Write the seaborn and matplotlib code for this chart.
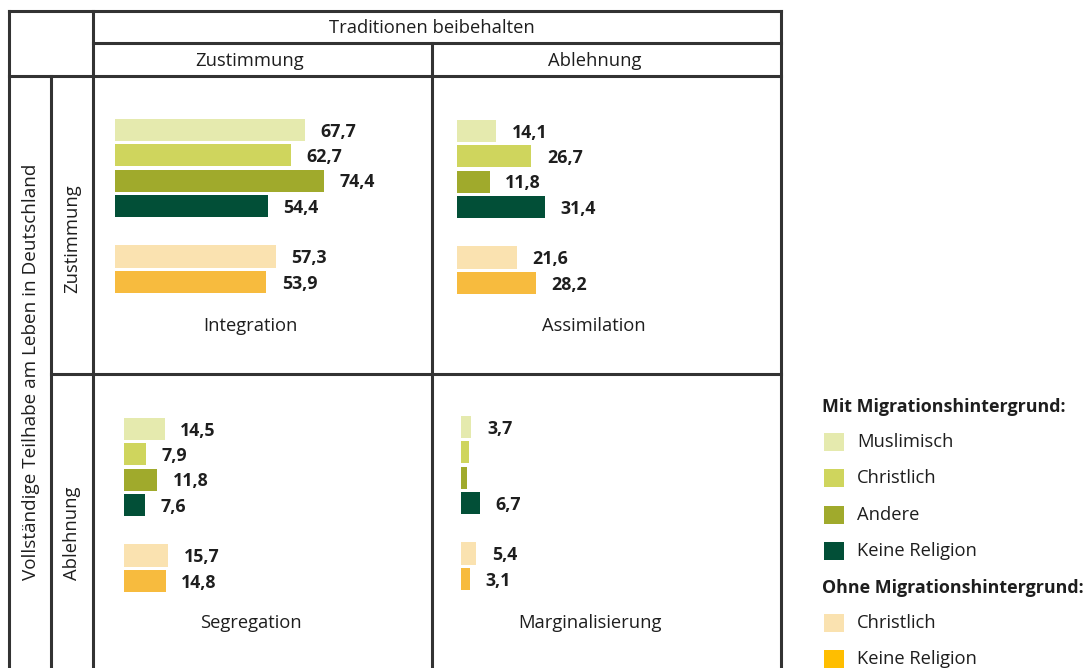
import numpy as np
import pandas as pd
import matplotlib
matplotlib.use("Agg")
import matplotlib.pyplot as plt
from matplotlib.patches import Rectangle
import seaborn as sns

sns.set_style("white")
plt.rcParams['font.family'] = ['Open Sans', 'DejaVu Sans']

# ---------------- data ----------------
groups = ["Mit: Muslimisch", "Mit: Christlich", "Mit: Andere", "Mit: Keine Religion",
          "Ohne: Christlich", "Ohne: Keine Religion"]
integration = [67.7, 62.7, 74.4, 54.4, 57.3, 53.9]
assimilation = [14.1, 26.7, 11.8, 31.4, 21.6, 28.2]
segregation = [14.5, 7.9, 11.8, 7.6, 15.7, 14.8]
marginalisierung = [3.7, 2.8, 2.1, 6.7, 5.4, 3.1]
marg_labelled = [True, False, False, True, True, True]

quadrant_names = ["Integration", "Assimilation", "Segregation", "Marginalisierung"]
header_top = "Traditionen beibehalten"
col_labels = ["Zustimmung", "Ablehnung"]
row_labels = ["Zustimmung", "Ablehnung"]
row_title = "Vollständige Teilhabe am Leben in Deutschland"
legend_title_mit = "Mit Migrationshintergrund:"
legend_mit = ["Muslimisch", "Christlich", "Andere", "Keine Religion"]
legend_title_ohne = "Ohne Migrationshintergrund:"
legend_ohne = ["Christlich", "Keine Religion"]

# ---------------- styles ----------------
bar_colors = ["#e5eaae", "#cfd55d", "#a0aa2c", "#024f37", "#fae2b0", "#f7bb3e"]
legend_colors = ["#e5eaae", "#cfd55d", "#a0aa2c", "#024f37", "#fae2b0", "#ffbe00"]
positions = [0, 1, 2, 3, 5, 6]
palette = dict(zip(groups, bar_colors))
LINE = "#333333"
TXT = "#1e1e1e"

W, H = 1089, 668
fig = plt.figure(figsize=(W / 100, H / 100), dpi=100)

bg = fig.add_axes([0, 0, 1, 1])
bg.set_xlim(0, W)
bg.set_ylim(H, 0)
bg.axis("off")

# table lines
lw = 2.2
def hline(y, x0, x1):
    bg.plot([x0, x1], [y, y], color=LINE, lw=lw, solid_capstyle="projecting")
def vline(x, y0, y1):
    bg.plot([x, x], [y0, y1], color=LINE, lw=lw, solid_capstyle="projecting")

hline(10.7, 9, 780.5)
hline(43.3, 92.5, 780.5)
hline(76.3, 9, 780.5)
hline(373.5, 51, 780.5)
vline(9, 10.7, 670)
vline(51, 76.3, 670)
vline(92.5, 10.7, 670)
vline(431.5, 43.3, 670)
vline(780.5, 10.7, 670)

fs = 13.2
bg.text(432, 28, header_top, ha="center", va="center", fontsize=fs, color=TXT)
bg.text(249.5, 61, col_labels[0], ha="center", va="center", fontsize=fs, color=TXT)
bg.text(595, 61, col_labels[1], ha="center", va="center", fontsize=fs, color=TXT)
bg.text(31, 372, row_title, ha="center", va="center", rotation=90, fontsize=13.6, color=TXT)
bg.text(72, 239, row_labels[0], ha="center", va="center", rotation=90, fontsize=fs, color=TXT)
bg.text(72, 533, row_labels[1], ha="center", va="center", rotation=90, fontsize=fs, color=TXT)

# quadrant label positions (pixel)
qlabel_pos = [(250.5, 326), (594, 326), (250.5, 623), (589.5, 623)]
for name, (x, y) in zip(quadrant_names, qlabel_pos):
    bg.text(x, y, name, ha="center", va="center", fontsize=fs, color=TXT)

# ---------------- bars ----------------
PX_PER_UNIT = 2.806
STEP = 25.3
AX_W = 300
quad_data = [integration, assimilation, segregation, marginalisierung]
quad_labelled = [[True] * 6, [True] * 6, [True] * 6, marg_labelled]
quad_origin = [(115, 130), (456.5, 131), (124, 429), (461, 427)]  # bar start x, first bar centre y

for vals, lab, (x0, yc0) in zip(quad_data, quad_labelled, quad_origin):
    top = yc0 - 0.5 * STEP
    height = 7 * STEP
    ax = fig.add_axes([x0 / W, 1 - (top + height) / H, AX_W / W, height / H])
    df = pd.DataFrame({"value": vals, "pos": positions, "group": groups})
    sns.barplot(data=df, x="value", y="pos", hue="group", palette=palette,
                orient="y", native_scale=True, width=0.87, dodge=False,
                saturation=1, legend=False, linewidth=0, ax=ax)
    ax.set_xlim(0, AX_W / PX_PER_UNIT)
    ax.set_ylim(6.5, -0.5)
    ax.axis("off")
    ax.patch.set_alpha(0)
    for v, p, show in zip(vals, positions, lab):
        if show:
            ax.text(v + 15.5 / PX_PER_UNIT, p + 0.07, f"{v:.1f}".replace(".", ","),
                    ha="left", va="center", fontsize=12.8, fontweight="bold",
                    color=TXT, clip_on=False)

# ---------------- legend ----------------
tfs = 12.9
bg.text(822, 407.5, legend_title_mit, ha="left", va="center", fontsize=tfs,
        fontweight="bold", color=TXT)
mit_y = [442, 478, 514.5, 550.5]
for lbl, col, y in zip(legend_mit, legend_colors[:4], mit_y):
    bg.add_patch(Rectangle((824, y - 9), 20, 18, color=col, lw=0))
    bg.text(857, y, lbl, ha="left", va="center", fontsize=fs, color=TXT)
bg.text(822, 588, legend_title_ohne, ha="left", va="center", fontsize=tfs,
        fontweight="bold", color=TXT)
ohne_y = [622.5, 658.5]
for lbl, col, y in zip(legend_ohne, legend_colors[4:], ohne_y):
    bg.add_patch(Rectangle((824, y - 9), 20, 18, color=col, lw=0))
    bg.text(857, y, lbl, ha="left", va="center", fontsize=fs, color=TXT)

fig.savefig("out.png", dpi=100)
